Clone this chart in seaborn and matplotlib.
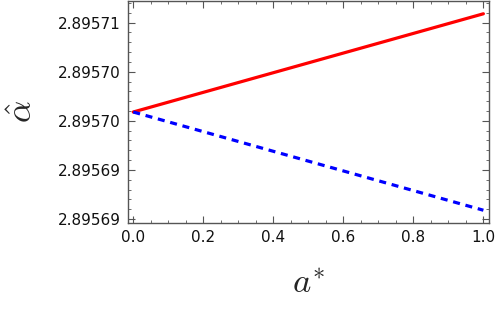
import numpy as np
import pandas as pd
import matplotlib
matplotlib.use("Agg")
import matplotlib.pyplot as plt
import seaborn as sns
from matplotlib.ticker import MultipleLocator, FixedLocator, FixedFormatter

# values
a_star = [0.0, 1.0]
alpha_red = [2.8957009, 2.8957109]
alpha_blue = [2.8957009, 2.8956909]
y_ticks = [2.895690, 2.895695, 2.895700, 2.895705, 2.895710]
y_labels = ["2.89569", "2.89569", "2.89570", "2.89570", "2.89571"]
x_ticks = [0.0, 0.2, 0.4, 0.6, 0.8, 1.0]

sns.set_style("ticks")
plt.rcParams["font.family"] = ["DejaVu Sans"]
plt.rcParams["mathtext.fontset"] = "cm"

df = pd.DataFrame({"a": a_star * 2,
                   "alpha": alpha_red + alpha_blue,
                   "s": ["red"] * 2 + ["blue"] * 2})

fig = plt.figure(figsize=(4.98, 3.10), dpi=100)
ax = fig.add_axes([128 / 498, 87 / 310, 361 / 498, 222 / 310])

sns.lineplot(data=df[df.s == "red"], x="a", y="alpha", color="red", lw=2.3, ax=ax)
sns.lineplot(data=df[df.s == "blue"], x="a", y="alpha", color="blue", lw=2.3,
             ax=ax, dashes=False, linestyle=(0, (2.2, 1.8)))

ax.set_xlim(-0.015, 1.016)
ax.set_ylim(2.8956896, 2.8957122)

ax.xaxis.set_major_locator(FixedLocator(x_ticks))
ax.xaxis.set_minor_locator(MultipleLocator(0.05))
ax.yaxis.set_major_locator(FixedLocator(y_ticks))
ax.yaxis.set_major_formatter(FixedFormatter(y_labels))
ax.yaxis.set_minor_locator(MultipleLocator(1e-6))

frame = "#555555"
for s in ax.spines.values():
    s.set_color(frame)
    s.set_linewidth(1.0)
ax.tick_params(which="both", direction="in", top=True, right=True,
               color=frame, labelsize=11, labelcolor="#111111")
ax.tick_params(which="major", length=5, width=0.8, pad=5)
ax.tick_params(which="minor", length=2.5, width=0.6)

ax.set_xlabel(r"$a^{*}$", fontsize=25, labelpad=16)
ax.set_ylabel(r"$\hat{\alpha}$", fontsize=25, labelpad=14)

fig.savefig("out.png", dpi=100)
